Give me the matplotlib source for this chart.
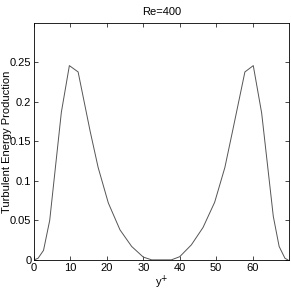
import matplotlib
matplotlib.use("Agg")
import matplotlib.pyplot as plt
from matplotlib.ticker import FuncFormatter

# y+ grid and turbulent energy production
y_plus = [0, 1.1, 2.6, 4.3, 7.5, 9.7, 12.1, 15.4, 17.6, 20.4, 23.6, 26.8, 30.0, 32.3, 35.0,
          37.7, 40.0, 43.2, 46.4, 49.6, 52.4, 54.6, 57.9, 60.2, 62.5, 65.7, 67.3, 68.9, 69.7]
production = [0, 0.002, 0.012, 0.05, 0.187, 0.246, 0.238, 0.163, 0.117, 0.072, 0.038, 0.017, 0.0035, 0, 0,
              0, 0.004, 0.019, 0.041, 0.073, 0.117, 0.165, 0.238, 0.246, 0.186, 0.055, 0.017, 0.002, 0]

x_ticks = [0, 10, 20, 30, 40, 50, 60]
y_ticks = [0, 0.05, 0.1, 0.15, 0.2, 0.25]

plt.rcParams['font.family'] = ['Liberation Sans', 'DejaVu Sans']
plt.rcParams['font.size'] = 8

fig = plt.figure(figsize=(2.91, 2.91), dpi=100)
ax = fig.add_axes([0.117, 0.107, 0.876, 0.814])
ax.plot(y_plus, production, color='#555555', linewidth=0.7)

ax.set_xlim(0, 70)
ax.set_ylim(0, 0.3)
ax.set_xticks(x_ticks)
ax.set_yticks(y_ticks)
ax.yaxis.set_major_formatter(FuncFormatter(lambda v, p: '%g' % v))
ax.tick_params(direction='in', top=True, right=True, length=3, width=0.5, pad=2, labelsize=8)
for s in ax.spines.values():
    s.set_linewidth(0.6)

ax.set_title('Re=400', fontsize=8, pad=6)
ax.set_xlabel(r'y$^{+}$', fontsize=8, labelpad=1)
ax.set_ylabel('Turbulent Energy Production', fontsize=8)
ax.yaxis.set_label_coords(-0.088, 0.5)

fig.savefig('out.png', dpi=100)
